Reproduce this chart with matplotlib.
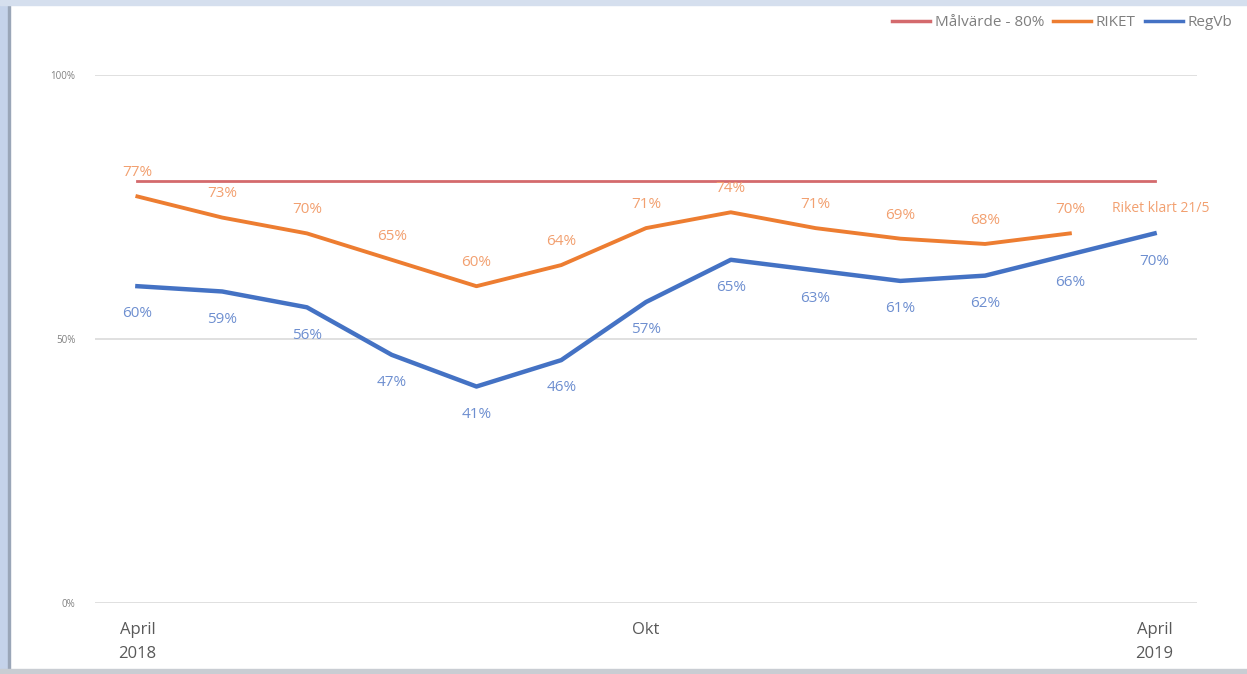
import matplotlib.pyplot as plt
from matplotlib.patches import Rectangle

# Data
months = list(range(13))  # April 2018 .. April 2019
riket = [77, 73, 70, 65, 60, 64, 71, 74, 71, 69, 68, 70]
regvb = [60, 59, 56, 47, 41, 46, 57, 65, 63, 61, 62, 66, 70]
malvarde = [80] * 13
xtick_pos = [0, 6, 12]
xtick_labels = ['April\n2018', 'Okt', 'April\n2019']
ytick_pos = [0, 50, 100]
ytick_labels = ['0%', '50%', '100%']

c_mal = '#D46A6D'
c_riket = '#ED7D31'
c_regvb = '#4472C4'
c_riket_lbl = '#F2A070'
c_regvb_lbl = '#6E8FD0'

plt.rcParams['font.family'] = ['Open Sans', 'DejaVu Sans']

fig = plt.figure(figsize=(12.47, 6.74), dpi=100)
ax = fig.add_axes([95 / 1247, 71 / 674, 1102 / 1247, 528 / 674])

# window-like borders
fig.patches.append(Rectangle((0, 0), 8 / 1247, 1, transform=fig.transFigure,
                             color='#C5D3EA', zorder=0))
fig.patches.append(Rectangle((8 / 1247, 0), 2 / 1247, 1, transform=fig.transFigure,
                             color='#9AA6B8', zorder=0))
fig.patches.append(Rectangle((0, 1 - 5 / 674), 1, 5 / 674, transform=fig.transFigure,
                             color='#D5DFEE', zorder=0))
fig.patches.append(Rectangle((0, 0), 1, 5 / 674, transform=fig.transFigure,
                             color='#C9CDD3', zorder=0))

for y in ytick_pos:
    ax.axhline(y, color='#DADADA', lw=1.2, zorder=1)

ax.plot(months, malvarde, color=c_mal, lw=2, zorder=3, label='Målvärde - 80%')
ax.plot(months[:len(riket)], riket, color=c_riket, lw=2.8, zorder=4, label='RIKET')
ax.plot(months, regvb, color=c_regvb, lw=3.2, zorder=5, label='RegVb')

for i, v in enumerate(riket):
    ax.annotate(f'{v}%', (i, v), xytext=(0, 17), textcoords='offset points',
                ha='center', va='center', color=c_riket_lbl, fontsize=11)
for i, v in enumerate(regvb):
    ax.annotate(f'{v}%', (i, v), xytext=(0, -20), textcoords='offset points',
                ha='center', va='center', color=c_regvb_lbl, fontsize=11)
ax.annotate('Riket klart 21/5', (11.5, 70), xytext=(0, 18), textcoords='offset points',
            ha='left', va='center', color=c_riket_lbl, fontsize=10)

ax.set_xlim(-0.5, 12.5)
ax.set_ylim(0, 100)
ax.set_xticks(xtick_pos)
ax.set_xticklabels(xtick_labels, fontsize=12, color='#595959', linespacing=1.6)
ax.set_yticks(ytick_pos)
ax.set_yticklabels(ytick_labels, fontsize=7, color='#808080')
ax.tick_params(length=0)
ax.tick_params(axis='x', pad=14)
ax.tick_params(axis='y', pad=14)
for s in ax.spines.values():
    s.set_visible(False)

leg = fig.legend(loc='center left', bbox_to_anchor=(878 / 1247, 1 - 23 / 674), ncol=3,
                 frameon=False, fontsize=11, handlelength=2.5, handletextpad=0.3,
                 columnspacing=0.6, labelcolor='#7F7F7F')
for h in leg.legend_handles:
    h.set_linewidth(2.5)

fig.savefig('out.png', dpi=100)
